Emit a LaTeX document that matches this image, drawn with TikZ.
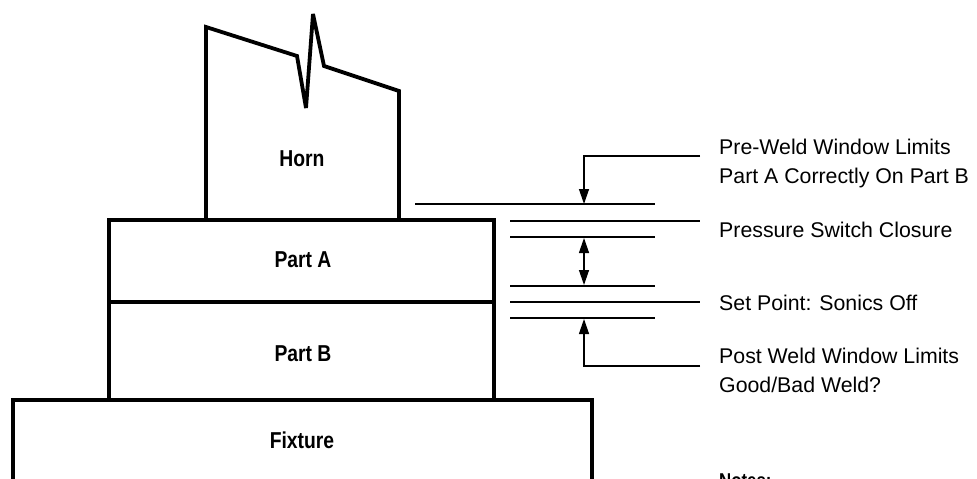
\documentclass[tikz,border=0pt]{standalone}
\usepackage{fontspec}
\setmainfont{Liberation Sans}
\newfontfamily\condbold[FakeStretch=0.84]{Liberation Sans Bold}
\usetikzlibrary{arrows.meta}
\tikzset{
  x=1pt,y=-1pt,
  heavy/.style={draw=black,line width=3.8pt,line join=miter,miter limit=3},
  body/.style={heavy,rectangle,anchor=north west,inner sep=0pt,outer sep=0pt},
  plain/.style={black,line width=1.3pt},
  lead/.style={plain,-{Triangle[length=15pt,width=10pt]}},
  both/.style={plain,{Triangle[length=15pt,width=10pt]}-{Triangle[length=15pt,width=10pt]}},
  lbl/.style={anchor=base west,inner sep=0pt,align=left,font=\fontsize{21.3}{29}\selectfont},
  bodylbl/.style={anchor=base,inner sep=0pt,font=\fontsize{23}{26}\selectfont\condbold},
}
\begin{document}
\begin{tikzpicture}
\useasboundingbox (0,0) rectangle (977,479);
% horn
\draw[heavy] (206,219) -- (206,27) -- (297,56) -- (306,108) -- (313,14) -- (324,66) -- (399,91) -- (399,219);
\node[bodylbl] (horn) at (302,166) {Horn};
% parts
\node[body,minimum width=385pt,minimum height=82pt] (partA) at (109,220) {};
\node[body,minimum width=385pt,minimum height=98pt] (partB) at (109,302) {};
\node[bodylbl] (lblA) at (303,267) {Part A};
\node[bodylbl] (lblB) at (303,361) {Part B};
% fixture
\draw[heavy] (13,490) -- (13,400) -- (592,400) -- (592,490);
\node[bodylbl] (fixture) at (302,448) {Fixture};
% reference lines
\coordinate (a1) at (415,204); \coordinate (a2) at (655,204);
\coordinate (b1) at (510,221); \coordinate (b2) at (700,221);
\coordinate (c1) at (510,237); \coordinate (c2) at (655,237);
\coordinate (d1) at (510,286); \coordinate (d2) at (655,286);
\coordinate (e1) at (510,302); \coordinate (e2) at (700,302);
\coordinate (f1) at (510,318); \coordinate (f2) at (655,318);
\draw[plain] (a1) -- (a2);
\draw[plain] (b1) -- (b2);
\draw[plain] (c1) -- (c2);
\draw[plain] (d1) -- (d2);
\draw[plain] (e1) -- (e2);
\draw[plain] (f1) -- (f2);
% leaders
\coordinate (t0) at (700,156); \coordinate (t1) at (584,156); \coordinate (t2) at (584,204);
\coordinate (m1) at (584,238); \coordinate (m2) at (584,285);
\coordinate (p0) at (700,366); \coordinate (p1) at (584,366); \coordinate (p2) at (584,319);
\draw[lead] (t0) -- (t1) -- (t2);
\draw[both] (m1) -- (m2);
\draw[lead] (p0) -- (p1) -- (p2);
% labels
\node[lbl] (pre) at (719,154) {Pre-Weld Window Limits};
\node[lbl] (pre2) at (719,183) {Part A Correctly On Part B};
\node[lbl] (press) at (719,237) {Pressure Switch Closure};
\node[lbl] (set) at (719,310) {Set Point: Sonics Off};
\node[lbl] (post) at (719,363) {Post Weld Window Limits};
\node[lbl] (post2) at (719,392) {Good/Bad Weld?};
\node[anchor=base west,inner sep=0pt,font=\fontsize{20}{22}\selectfont\condbold] (notes) at (719,487) {Notes:};
\end{tikzpicture}
\end{document}
